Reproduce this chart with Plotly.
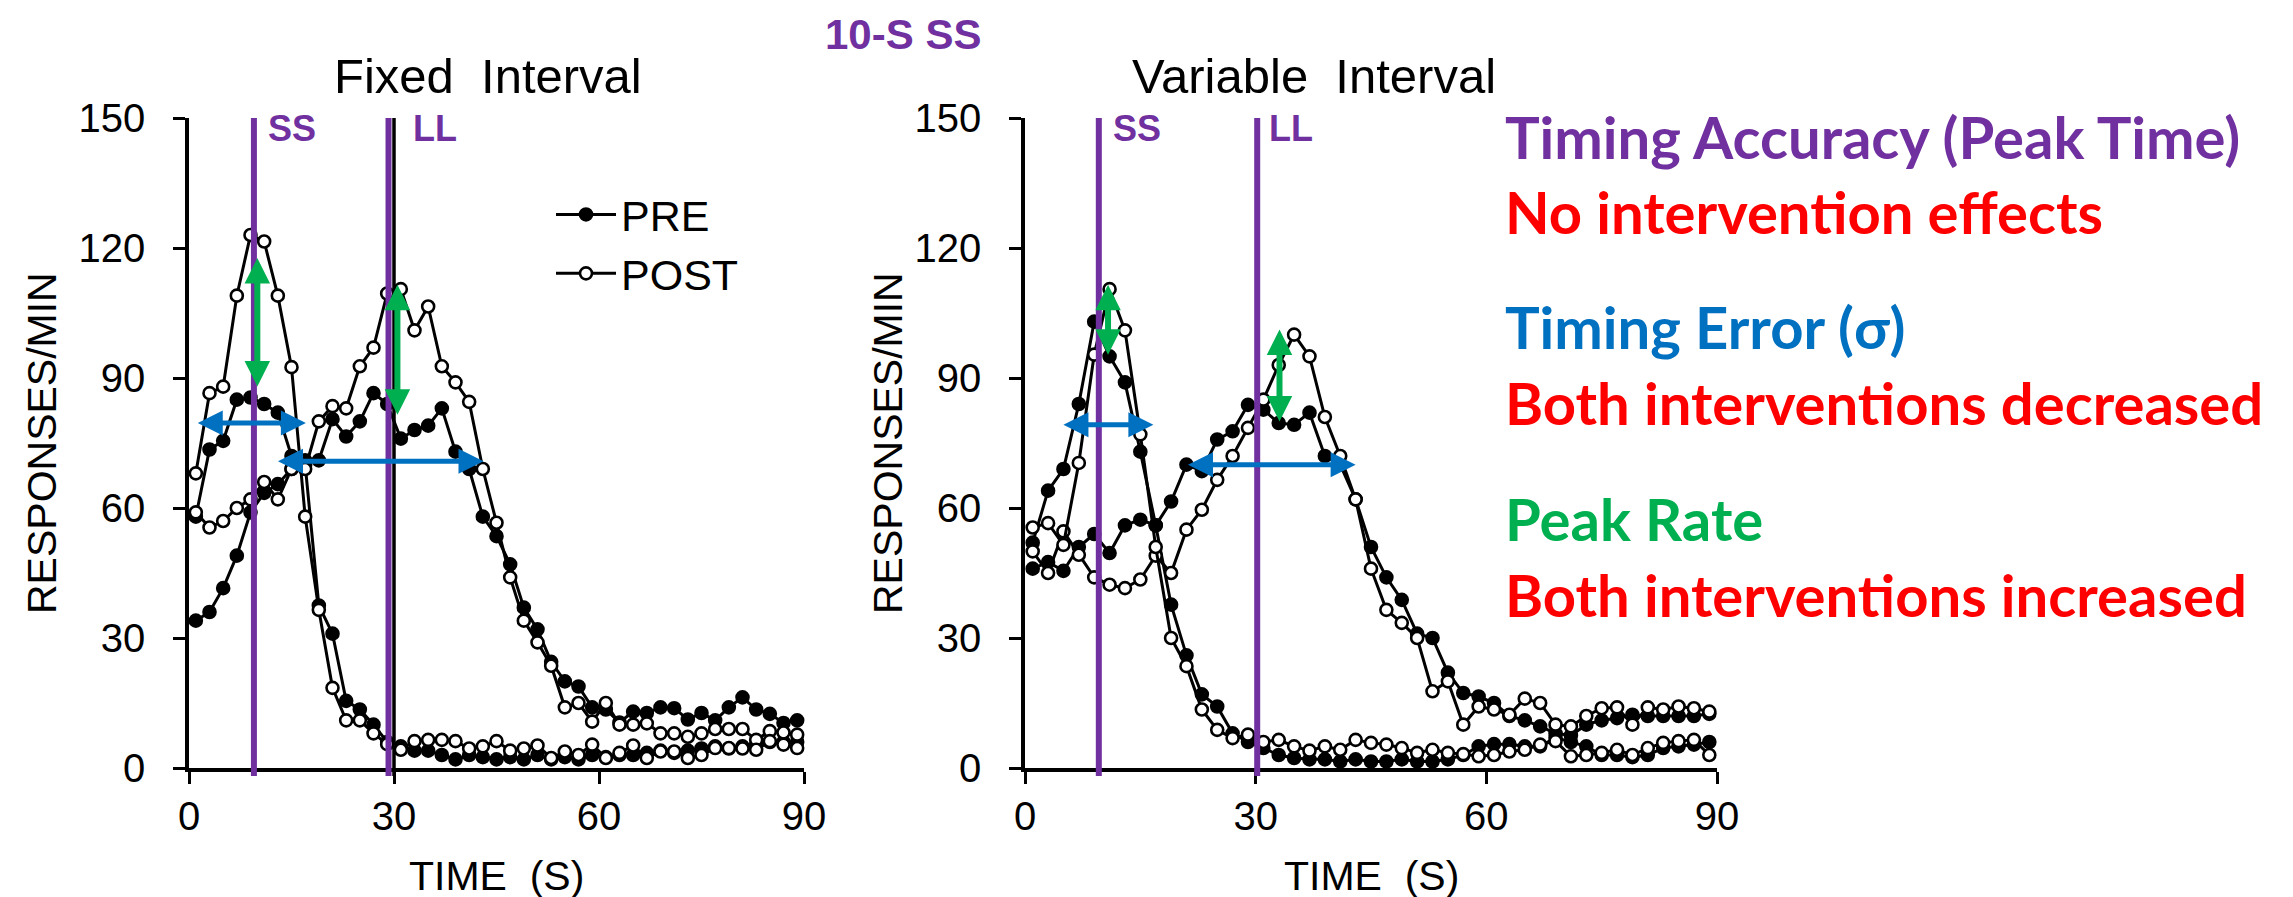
import plotly.graph_objects as go

# ---------------- data ----------------
TIME_S = [1, 3, 5, 7, 9, 11, 13, 15, 17, 19, 21, 23, 25, 27, 29, 31, 33, 35, 37, 39, 41, 43, 45,
          47, 49, 51, 53, 55, 57, 59, 61, 63, 65, 67, 69, 71, 73, 75, 77, 79, 81, 83, 85, 87, 89]

FI_SS_PRE = [58, 73.5, 75.5, 85, 85.5, 84, 82, 72, 70, 37.5, 31, 15.5, 13.5, 10, 6, 5, 4, 4, 3, 2, 3, 2.5, 2,
             2.5, 2, 3, 2, 2.5, 2, 3, 2.5, 3, 3, 3.5, 4, 3.5, 4, 4.5, 5, 4.5, 5, 5.5, 6, 6, 6]
FI_SS_POST = [68, 86.5, 88, 109, 123, 121.5, 109, 92.5, 58, 36.5, 18.5, 11, 11, 8, 5.5, 4.2, 6.2, 6.5, 6.5, 6.2,
              4.5, 5, 6.2, 4, 4.5, 5.2, 2.3, 3.8, 3, 5.4, 2.3, 3.5, 5.2, 2.3, 3.8, 3.8, 2.3, 3, 4.6, 4.6, 4.5,
              4.2, 6.2, 5.4, 4.6]
FI_LL_PRE = [34, 36, 41.5, 49, 59, 63.5, 65.5, 69, 71, 71, 80.5, 76.5, 80, 86.5, 84, 76, 78, 79, 83, 73, 69, 58,
             53.5, 47, 37, 32, 24.5, 20, 18.8, 14, 13.5, 10.5, 13, 12.7, 14, 13.8, 11.2, 12.7, 11, 14, 16.3,
             13.5, 12.5, 10.4, 11]
FI_LL_POST = [59, 55.5, 57, 60, 62, 66, 62, 69, 69, 80, 83.5, 83, 92.7, 97, 109.5, 110.5, 101, 106.5, 92.7, 89,
              84.5, 69, 56.6, 44, 34, 29, 23.6, 14, 15, 10.7, 15, 10, 10, 10.3, 8, 8, 7.2, 8, 9, 9, 9, 6.5,
              8.5, 8.2, 7.7]

VI_SS_PRE = [52, 64, 69, 84, 103, 95, 89, 73, 56, 37.7, 26, 17, 14.2, 8, 6, 4.6, 3, 2.3, 2, 2, 1.5, 2, 1.5,
             1.5, 2, 1.5, 1.5, 2, 3, 5, 5.5, 5.5, 5, 5, 7, 6, 5, 3, 3, 2.5, 3, 4.6, 5, 5.4, 6]
VI_SS_POST = [55.5, 56.5, 51.5, 70.4, 95.4, 110.5, 101, 77, 51, 30, 23.5, 13.5, 8.8, 6.9, 7.7, 6, 6.5, 5, 4, 5,
              4.2, 6.5, 5.8, 5.4, 4.6, 3.5, 4.2, 3.5, 3.2, 2.7, 3, 3.8, 4.2, 5.4, 6.2, 2.7, 3, 3.5, 4.2, 3,
              4.6, 5.8, 6.2, 6.5, 3]
VI_LL_PRE = [46, 47.5, 45.5, 51, 54, 49.6, 56, 57.3, 56, 61.5, 70, 68.5, 75.8, 77.7, 83.8, 82.7, 79.6, 79.2, 82,
             72, 70, 62, 51, 44, 38.8, 31, 30, 22, 17.3, 16.5, 15, 12, 11, 9.6, 8, 7.5, 10, 11, 11.5, 12.3, 12,
             12, 12, 12, 12.5]
VI_LL_POST = [50, 45, 54.6, 49.2, 44, 42.3, 41.5, 43.5, 49, 45, 55, 59.6, 66.5, 72, 78.5, 85, 93, 100, 95, 81,
              72, 62, 46, 36.5, 33.5, 30, 17.7, 20, 10, 14.2, 13.5, 12.3, 16, 15, 10, 9.6, 12, 13.8, 14, 10,
              14, 13.5, 14.2, 13.8, 13]

PANEL_TITLES = ["Fixed\u00a0 Interval", "Variable\u00a0 Interval"]
X_TICKS = [0, 30, 60, 90]
Y_TICKS = [0, 30, 60, 90, 120, 150]
SS_LINE_T = [9.5, 9.6]          # SS delay marker (s)
LL_LINE_T = [29.2, 30.2]        # LL delay marker (s)
FI_BLACK_LINE_T = 30
# peak-rate (green) arrows: x, y_low, y_high
GREEN_ARROWS = [[(10.0, 87.7, 117.7), (30.5, 81.2, 111.5)],
                [(10.8, 95.0, 111.5), (33.1, 79.6, 101.2)]]
# timing-error (blue) arrows: y, x_left, x_right
BLUE_ARROWS = [[(79.6, 1.06, 17.1), (70.8, 12.8, 43.1)],
               [(79.2, 4.8, 16.7), (70.0, 21.0, 43.0)]]

SIDE_TEXT = [("Timing Accuracy (Peak Time)", "#7030A0"),
             ("No intervention effects", "#FF0000"),
             ("Timing Error (\u03c3)", "#0070C0"),
             ("Both interventions decreased", "#FF0000"),
             ("Peak Rate", "#00B050"),
             ("Both interventions increased", "#FF0000")]

# ---------------- layout geometry (pixels) ----------------
W, H = 2293, 897
PANEL_X_PX = [(181, 796), (1017, 1709)]
Y_PX = (760, 110)   # y=0, y=150
PURPLE = "#7030A0"
ARIAL = "Liberation Sans, Arial, sans-serif"
CAL = "Lato, Carlito, Calibri, sans-serif"


def fx(p):
    return p / W


def fy(p):
    return (H - p) / H


fig = go.Figure()

panels = [(FI_SS_PRE, FI_SS_POST, FI_LL_PRE, FI_LL_POST),
          (VI_SS_PRE, VI_SS_POST, VI_LL_PRE, VI_LL_POST)]

for i, (ss_pre, ss_post, ll_pre, ll_post) in enumerate(panels):
    xa = "x" if i == 0 else "x2"
    ya = "y" if i == 0 else "y2"
    for vals, kind in [(ll_pre, "PRE"), (ss_pre, "PRE"), (ll_post, "POST"), (ss_post, "POST")]:
        filled = kind == "PRE"
        show = (i == 0) and (vals is ss_pre or vals is ss_post)
        fig.add_trace(go.Scatter(
            x=TIME_S, y=vals, mode="lines+markers", name=kind,
            xaxis=xa, yaxis=ya, cliponaxis=False,
            showlegend=show, legendrank=1 if filled else 2,
            line=dict(color="black", width=3),
            marker=dict(symbol="circle", size=12,
                        color="black" if filled else "white",
                        line=dict(color="black", width=2.6)),
        ))

axis_common = dict(range=[0, 90], tickvals=X_TICKS, showline=True, linewidth=3.5, linecolor="black",
                   ticks="outside", ticklen=12, tickwidth=3, tickcolor="black", showgrid=False,
                   zeroline=False, tickfont=dict(family=ARIAL, size=40, color="black"),
                   ticklabelstandoff=-2)
yaxis_common = dict(range=[0, 150], tickvals=Y_TICKS, showline=True, linewidth=3.5, linecolor="black",
                    ticks="outside", ticklen=12, tickwidth=3, tickcolor="black", showgrid=False,
                    zeroline=False, tickfont=dict(family=ARIAL, size=40, color="black"),
                    ticklabelstandoff=20)

ydom = [fy(Y_PX[0]), fy(Y_PX[1])]
fig.update_layout(
    width=W, height=H, margin=dict(l=0, r=0, t=0, b=0, autoexpand=False),
    paper_bgcolor="white", plot_bgcolor="white",
    xaxis=dict(domain=[fx(PANEL_X_PX[0][0]), fx(PANEL_X_PX[0][1])], anchor="y", **axis_common),
    yaxis=dict(domain=ydom, anchor="x", **yaxis_common),
    xaxis2=dict(domain=[fx(PANEL_X_PX[1][0]), fx(PANEL_X_PX[1][1])], anchor="y2", **axis_common),
    yaxis2=dict(domain=ydom, anchor="x2", **yaxis_common),
    legend=dict(x=fx(543), y=fy(172), xanchor="left", yanchor="top", bgcolor="rgba(0,0,0,0)",
                font=dict(family=ARIAL, size=43, color="black"), itemwidth=60,
                tracegroupgap=10, traceorder="normal"),
    showlegend=True,
)

shapes = []
annotations = []
for i in range(2):
    xr = "x" if i == 0 else "x2"
    yr = "y" if i == 0 else "y2"
    lines = [(SS_LINE_T[i], PURPLE, 6), (LL_LINE_T[i], PURPLE, 6)]
    if i == 0:
        lines.insert(1, (FI_BLACK_LINE_T, "black", 3.5))
    for t, col, w in lines:
        shapes.append(dict(type="line", xref=xr, yref="paper", x0=t, x1=t,
                           y0=fy(768), y1=fy(Y_PX[1]), line=dict(color=col, width=w), layer="above"))
    # SS / LL labels
    for t, lab, shift in [(SS_LINE_T[i], "SS", 12), (LL_LINE_T[i], "LL", 22 if i == 0 else 10)]:
        annotations.append(dict(x=t, y=fy(121), xref=xr, yref="paper", text="<b>%s</b>" % lab,
                                showarrow=False, xanchor="left", yanchor="middle", xshift=shift,
                                font=dict(family=ARIAL, size=36, color=PURPLE)))
    # panel titles
    cx = 480 if i == 0 else 1306
    annotations.append(dict(x=fx(cx), y=fy(68), xref="paper", yref="paper", text=PANEL_TITLES[i],
                            showarrow=False, xanchor="center", yanchor="middle",
                            font=dict(family=ARIAL, size=49, color="black")))
    # x axis titles
    annotations.append(dict(x=fx((PANEL_X_PX[i][0] + PANEL_X_PX[i][1]) / 2), y=fy(868), xref="paper",
                            yref="paper", text="TIME\u00a0 (S)", showarrow=False, xanchor="center",
                            yanchor="middle", font=dict(family=ARIAL, size=41, color="black")))
    # y axis titles
    annotations.append(dict(x=fx(34 if i == 0 else 880), y=fy(435), xref="paper", yref="paper",
                            text="RESPONSES/MIN", textangle=-90, showarrow=False, xanchor="center",
                            yanchor="middle", font=dict(family=ARIAL, size=41, color="black")))
    # green arrows
    for (x, y0, y1) in GREEN_ARROWS[i]:
        annotations.append(dict(x=x, y=y1, ax=x, ay=y0, xref=xr, yref=yr, axref=xr, ayref=yr, text="",
                                showarrow=True, arrowhead=2, arrowside="end+start", arrowsize=0.85,
                                arrowwidth=6, arrowcolor="#00B050"))
    for (y, x0, x1) in BLUE_ARROWS[i]:
        annotations.append(dict(x=x1, y=y, ax=x0, ay=y, xref=xr, yref=yr, axref=xr, ayref=yr, text="",
                                showarrow=True, arrowhead=2, arrowside="end+start", arrowsize=1.0,
                                arrowwidth=5, arrowcolor="#0070C0"))

annotations.append(dict(x=fx(895), y=fy(27), xref="paper", yref="paper", text="<b>10-S SS</b>",
                        showarrow=False, xanchor="center", yanchor="middle",
                        font=dict(family=ARIAL, size=42, color=PURPLE)))

SIDE_Y_PX = [128, 203, 319, 394, 510, 587]
for (txt, col), ypx in zip(SIDE_TEXT, SIDE_Y_PX):
    annotations.append(dict(x=fx(1495), y=fy(ypx), xref="paper", yref="paper", text="<b>%s</b>" % txt,
                            showarrow=False, xanchor="left", yanchor="middle",
                            font=dict(family=CAL, size=58, color=col)))

fig.update_layout(shapes=shapes, annotations=annotations)
fig.write_html("out.html")
